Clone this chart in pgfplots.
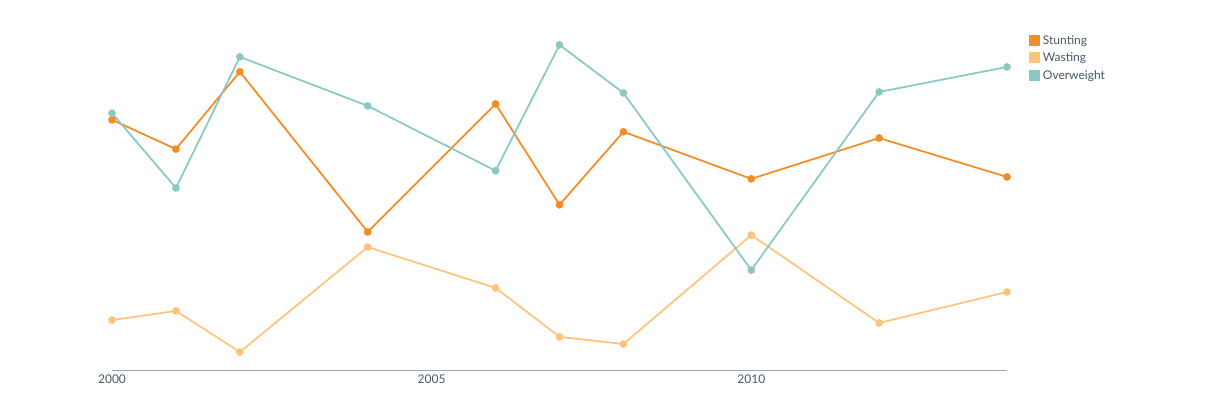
\documentclass[border=0pt]{standalone}
\usepackage{pgfplots}
\pgfplotsset{compat=1.18}
\usepackage{fontspec}
\setmainfont{Lato}
\definecolor{stu}{HTML}{F58B24}
\definecolor{was}{HTML}{FDC47E}
\definecolor{ovw}{HTML}{8AC8C4}
\definecolor{tk}{HTML}{9AA8B8}
\definecolor{tx}{HTML}{4A5868}
\begin{document}
\begin{tikzpicture}
\useasboundingbox (0pt,0pt) rectangle (922.5pt,302.25pt);
\begin{axis}[at={(84pt,24.75pt)},anchor=south west,scale only axis,
 width=671.25pt,height=255pt,
 xmin=2000,xmax=2014,ymin=2,ymax=9.08,
 axis x line*=bottom, axis y line=none,
 x axis line style={draw=tk},
 xtick={2000,2005,2010}, xticklabel style={text=tx,font=\small},
 x tick label style={/pgf/number format/1000 sep={}},
 major tick length=0pt,
 ytick={2,4,6,8}, ymajorgrids, grid style={draw=black!12},
 yticklabel={\pgfmathprintnumber[fixed,fixed zerofill,precision=1]{\tick}\%},
 yticklabel style={text=tk,font=\small},
 /pgf/number format/assume math mode=true,
 ylabel={Prevalence (\%)}, ylabel style={text=tk,font=\small,at={(axis description cs:-0.11,0.5)}},
 every axis plot/.append style={line width=1.3pt,mark=*,mark size=2.2pt},
 legend style={at={(1.02,1.0)},anchor=north west,draw=none,font=\small,text=tx,row sep=1pt},
 legend cell align=left,
 legend image code/.code={\fill[#1] (0pt,-3pt) rectangle (7pt,4pt);},
 clip=false]
\addplot[stu,mark options={fill=stu}] coordinates {(2000,7.21)(2001,6.60)(2002,8.21)(2004,4.875)(2006,7.54)(2007,5.44)(2008,6.96)(2010,5.98)(2012,6.83)(2014,6.02)};
\addplot[was,mark options={fill=was}] coordinates {(2000,3.04)(2001,3.23)(2002,2.375)(2004,4.56)(2006,3.71)(2007,2.69)(2008,2.54)(2010,4.81)(2012,2.98)(2014,3.625)};
\addplot[ovw,mark options={fill=ovw}] coordinates {(2000,7.35)(2001,5.79)(2002,8.52)(2004,7.5)(2006,6.15)(2007,8.77)(2008,7.77)(2010,4.08)(2012,7.79)(2014,8.31)};
\legend{Stunting,Wasting,Overweight}
\end{axis}
\end{tikzpicture}
\end{document}
